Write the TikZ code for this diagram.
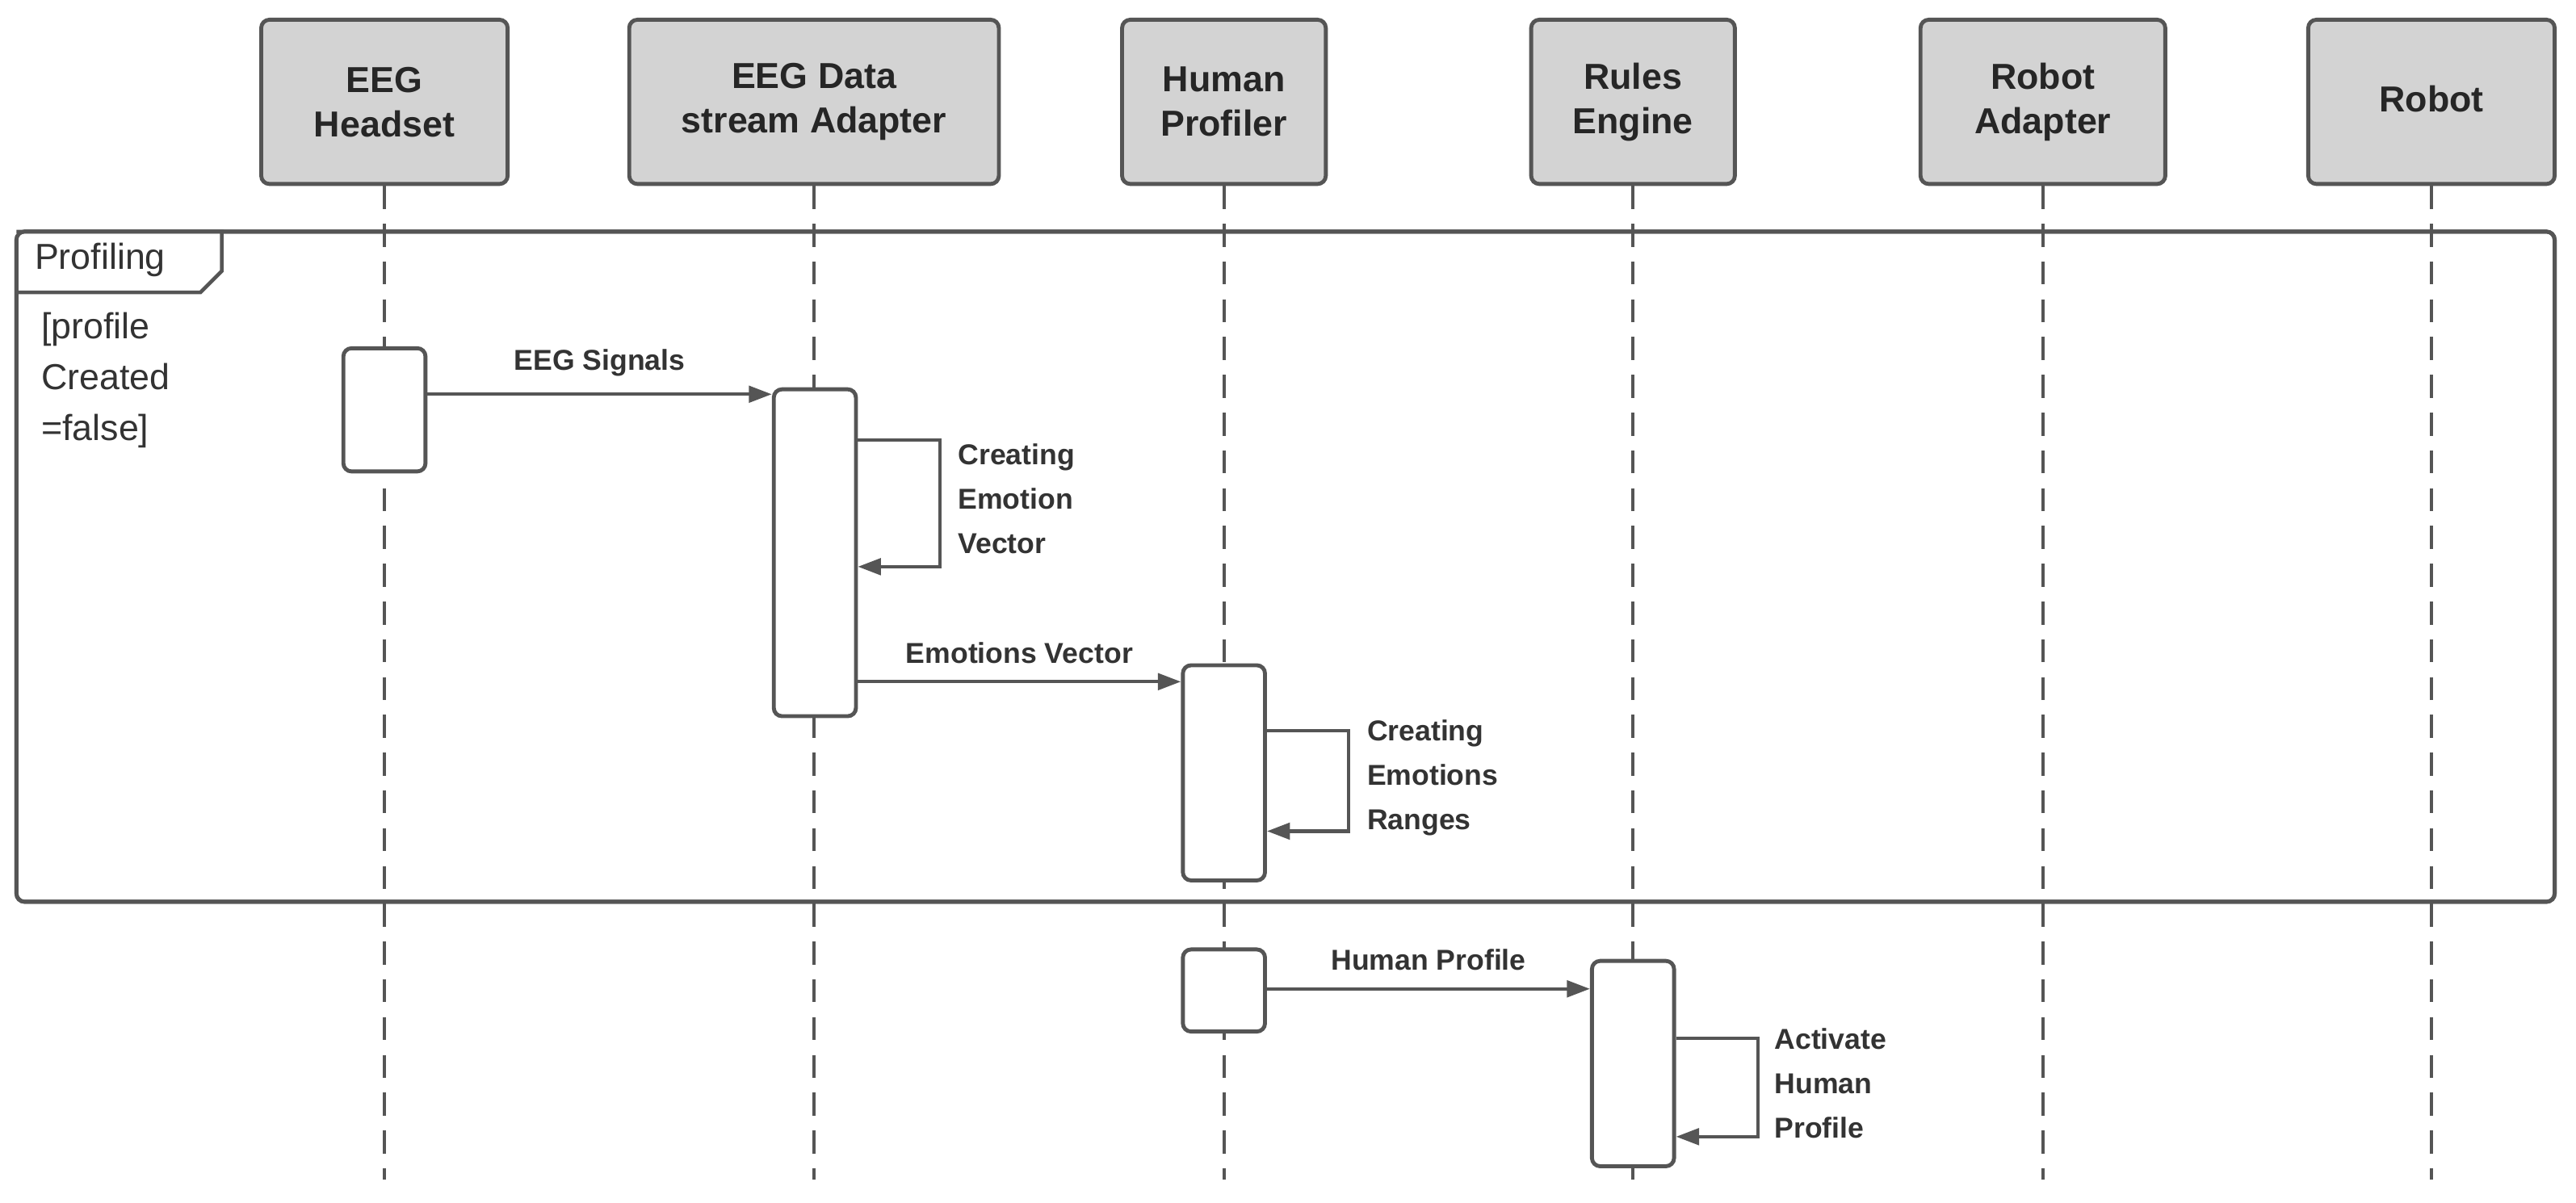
\documentclass[tikz,border=0pt]{standalone}
\usepackage{fontspec}
\setmainfont{Liberation Sans}
\usetikzlibrary{arrows.meta}
\definecolor{ln}{HTML}{555555}
\definecolor{hd}{HTML}{D3D3D3}
\begin{document}
\begin{tikzpicture}[x=1pt,y=-1pt,
 head/.style={draw=ln,line width=2.4pt,fill=hd,rounded corners=5pt,align=center,font=\fontsize{22}{27}\selectfont\bfseries,text=black!85,inner sep=0pt},
 life/.style={draw=ln,line width=1.8pt,dash pattern=on 14pt off 9pt},
 act/.style={draw=ln,line width=2.4pt,fill=white,rounded corners=5pt},
 msg/.style={draw=ln,line width=2.1pt,-{Triangle[length=14pt,width=10pt]}},
 lab/.style={font=\fontsize{17.5}{27}\selectfont\bfseries,text=black!80,align=left,inner sep=0pt}]
\useasboundingbox (0,0) rectangle (1568,732);
% headers
\foreach \n/\xa/\xb/\t in {h1/159/309/{EEG\\Headset},h2/383/608/{EEG Data\\stream Adapter},h3/683/807/{Human\\Profiler},h4/932/1056/{Rules\\Engine},h5/1169/1318/{Robot\\Adapter}}{
 \node[head,minimum width=\xb-\xa,minimum height=100] (\n) at ({(\xa+\xb)/2},62) {\t};}
\node[head,minimum width=150,minimum height=100] (h6) at (1480,62) {};
\node[font=\fontsize{22}{27}\selectfont\bfseries,text=black!85] at (1480,60) {Robot};
\foreach \n in {h1,h2,h3,h4,h5,h6}{\coordinate (\n e) at (\n.south |- 0,718);}
% frame
\draw[draw=ln,line width=2.4pt,rounded corners=5pt,fill=white] (10,141) rectangle (1555,549);
\foreach \n in {h1,h2,h3,h4,h5,h6}{\draw[life] (\n.south) -- (\n e);}
\draw[draw=ln,line width=2.2pt,fill=white] (10,141) -- (135,141) -- (135,165) -- (122,178) -- (10,178);
\draw[draw=ln,line width=2.4pt,rounded corners=5pt] (10,141) rectangle (1555,549);
\node[anchor=west,font=\fontsize{22}{27}\selectfont,text=black!80,inner sep=0pt] (pl) at (21,158) {Profiling};
\node[anchor=north west,align=left,font=\fontsize{22}{31}\selectfont,text=black!80,inner sep=0pt] (gd) at (25,190) {[profile\\Created\\=false]};
% activations
\node[act,minimum width=50,minimum height=75] (a1) at (234,249.5) {};
\node[act,minimum width=50,minimum height=199] (a2) at (496,336.5) {};
\node[act,minimum width=50,minimum height=131] (a3) at (745,470.5) {};
\node[act,minimum width=50,minimum height=50] (a4) at (745,603) {};
\node[act,minimum width=50,minimum height=125] (a5) at (994,647.5) {};
% messages
\draw[msg] (a1.east |- 0,240) -- (a2.west |- 0,240) node[lab,midway,above=10pt] {EEG Signals};
\draw[msg] (a2.east |- 0,268) -- (572,268) -- (572,345) -- (a2.east |- 0,345);
\node[lab,anchor=north west] at (583,270) {Creating\\Emotion\\Vector};
\draw[msg] (a2.east |- 0,415) -- (a3.west |- 0,415) node[lab,midway,above=10pt] {Emotions Vector};
\draw[msg] (a3.east |- 0,445) -- (821,445) -- (821,506) -- (a3.east |- 0,506);
\node[lab,anchor=north west] at (832,438) {Creating\\Emotions\\Ranges};
\draw[msg] (a4.east |- 0,602) -- (a5.west |- 0,602) node[lab,midway,above=10pt] {Human Profile};
\draw[msg] (a5.east |- 0,632) -- (1070,632) -- (1070,692) -- (a5.east |- 0,692);
\node[lab,anchor=north west] at (1080,626) {Activate\\Human\\Profile};
\end{tikzpicture}
\end{document}
